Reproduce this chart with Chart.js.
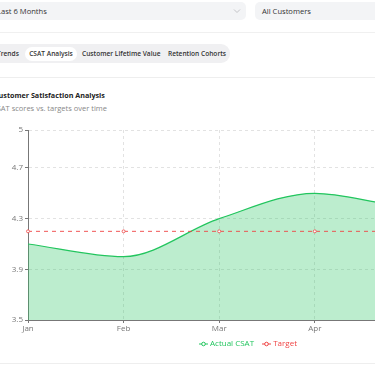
<!DOCTYPE html>
<html>
<head>
<meta charset="utf-8">
<script src="https://cdn.jsdelivr.net/npm/chart.js@4.4.0/dist/chart.umd.min.js"></script>
<style>
  html, body { margin: 0; padding: 0; background: #fff; }
  body { width: 375px; height: 366px; overflow: hidden; position: relative; font-family: "Open Sans", "Noto Sans", sans-serif; color: #222; }
  .abs { position: absolute; }
  .select { background: #f3f4f6; border-radius: 5px; height: 18px; top: 2px; font-size: 7.6px; line-height: 18px; color: #333; box-sizing: border-box; padding-left: 7px; }
  .tabs { left: -40px; top: 44px; width: 270px; height: 19px; background: #f0f0f2; border-radius: 9px; }
  .tab { font-size: 6.6px; font-weight: 600; color: #333; top: 47px; line-height: 14px; white-space: nowrap; }
  .tab.active { background: #fff; border-radius: 7px; width: 52px; text-align: center; }
  .card { left: -20px; top: 77px; width: 420px; height: 285px; border-top: 1px solid #eee; border-bottom: 1px solid #eee; }
  .title { left: -6px; top: 90px; font-size: 7.2px; font-weight: 700; color: #222; white-space: nowrap; }
  .subtitle { left: -8px; top: 103px; font-size: 7.5px; color: #888; white-space: nowrap; }
  #chartBox { left: -32px; top: 120px; }
  #legend { top: 337px; left: 0; width: 496px; text-align: center; font-size: 8px; white-space: nowrap; }
  #legend span { display: inline-block; margin: 0 3px; }
  #legend svg { vertical-align: middle; margin-right: 2px; }
</style>
</head>
<body>
  <div class="abs select" style="left:-10px;width:256px;">Last 6 Months</div>
  <svg class="abs" style="left:233px;top:8px" width="8" height="6" viewBox="0 0 8 6"><path d="M1 1.5 L4 4.5 L7 1.5" fill="none" stroke="#c4c4c8" stroke-width="1"/></svg>
  <div class="abs select" style="left:255px;width:140px;">All Customers</div>
  <div class="abs" style="left:0;top:32px;width:375px;height:1px;background:#f0f0f0"></div>

  <div class="abs tabs"></div>
  <div class="abs tab" style="left:-3px">Trends</div>
  <div class="abs tab active" style="left:25px">CSAT Analysis</div>
  <div class="abs tab" style="left:82px">Customer Lifetime Value</div>
  <div class="abs tab" style="left:168px">Retention Cohorts</div>

  <div class="abs card"></div>
  <div class="abs title">Customer Satisfaction Analysis</div>
  <div class="abs subtitle">CSAT scores vs. targets over time</div>

  <div class="abs" id="chartBox"><canvas id="csatChart" width="560" height="220"></canvas></div>
  <div class="abs" id="legend"></div>

<script>
const months = ["Jan", "Feb", "Mar", "Apr", "May", "Jun"]
const actualCsat = [4.1, 4.0, 4.3, 4.5, 4.4, 4.6]
const targetCsat = [4.2, 4.2, 4.2, 4.2, 4.2, 4.2]
const yTicks = [3.5, 3.9, 4.3, 4.7, 5]

const green = "#22c55e"
const red = "#ef4444"
const fontFamily = '"Open Sans", "Noto Sans", sans-serif'

document.addEventListener("DOMContentLoaded", () => {
  initializeChart()
})

function initializeChart() {
  const ctx = document.getElementById("csatChart")

  const chart = new Chart(ctx, {
    type: "line",
    data: {
      labels: months,
      datasets: [
        {
          label: "Actual CSAT",
          data: actualCsat,
          borderColor: green,
          backgroundColor: "rgba(34, 197, 94, 0.3)",
          borderWidth: 1.2,
          fill: "start",
          cubicInterpolationMode: "monotone",
          pointRadius: 0,
          order: 2,
        },
        {
          label: "Target",
          data: targetCsat,
          borderColor: red,
          backgroundColor: "#fff",
          borderWidth: 0.9,
          borderDash: [4, 4],
          fill: false,
          pointRadius: 1.5,
          pointBorderWidth: 0.8,
          pointBackgroundColor: "#fff",
          pointBorderColor: red,
          order: 1,
        },
      ],
    },
    options: {
      responsive: false,
      animation: false,
      layout: { padding: { top: 10, right: 22, bottom: 0, left: 0 } },
      plugins: {
        legend: { display: false },
        tooltip: { enabled: false },
      },
      scales: {
        x: {
          offset: false,
          afterFit: (s) => { s.height = 20 },
          grid: {
            color: "#e2e2e2",
            tickColor: "#777",
            tickLength: 3,
            tickBorderDash: [],
          },
          border: { color: "#777", dash: [3, 3] },
          ticks: {
            color: "#777",
            font: { family: fontFamily, size: 8 },
            padding: 1,
            maxRotation: 0,
            autoSkip: false,
          },
        },
        y: {
          min: yTicks[0],
          max: yTicks[yTicks.length - 1],
          afterFit: (s) => { s.width = 60 },
          afterBuildTicks: (s) => { s.ticks = yTicks.map((v) => ({ value: v })) },
          grid: {
            color: "#e2e2e2",
            tickColor: "#777",
            tickLength: 3,
            tickBorderDash: [],
          },
          border: { color: "#777", dash: [3, 3] },
          ticks: {
            color: "#777",
            font: { family: fontFamily, size: 8 },
            padding: 2,
            callback: (v) => String(v),
          },
        },
      },
    },
  })

  renderLegend(chart)
}

function renderLegend(chart) {
  const legend = document.getElementById("legend")
  legend.innerHTML = chart.data.datasets
    .map((ds) => `
      <span style="color:${ds.borderColor}">
        <svg width="9" height="6" viewBox="0 0 9 6">
          <line x1="0" y1="3" x2="9" y2="3" stroke="${ds.borderColor}" stroke-width="1"/>
          <circle cx="4.5" cy="3" r="1.8" fill="#fff" stroke="${ds.borderColor}" stroke-width="1"/>
        </svg>${ds.label}</span>`)
    .join("")
}
</script>
</body>
</html>
